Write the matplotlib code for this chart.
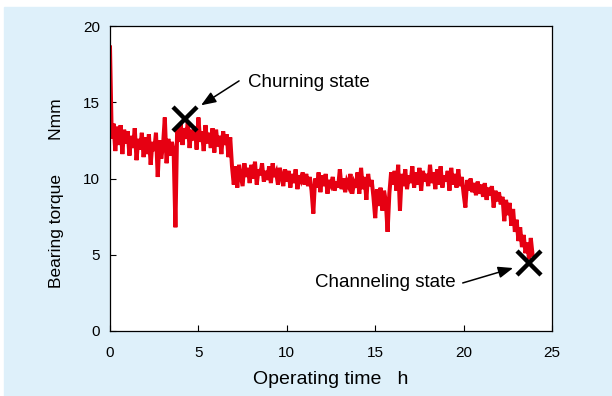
import numpy as np
import matplotlib
matplotlib.use("Agg")
import matplotlib.pyplot as plt
from matplotlib.patches import Rectangle

plt.rcParams['font.family'] = ['Liberation Sans', 'DejaVu Sans']

# bearing torque [Nmm], one reading every 0.1 h
torque_h00 = [18.6, 12.6, 13.6, 11.8, 13.4, 12.2, 13.5, 11.6, 13.2, 12.3]
torque_h01 = [13.1, 11.5, 12.8, 12.0, 13.3, 11.2, 12.6, 11.9, 13.0, 11.4]
torque_h02 = [12.7, 11.6, 12.9, 10.9, 12.4, 11.8, 13.0, 10.1, 12.5, 11.3]
torque_h03 = [12.2, 14.0, 11.0, 12.6, 11.5, 12.4, 11.8, 6.8, 13.4, 12.4]
torque_h04 = [13.6, 12.2, 13.3, 12.6, 13.7, 12.0, 13.2, 12.5, 13.4, 11.9]
torque_h05 = [14.0, 12.4, 13.1, 11.8, 13.5, 12.3, 13.0, 12.0, 13.3, 11.7]
torque_h06 = [13.2, 12.1, 12.8, 11.6, 13.1, 12.2, 12.9, 11.4, 12.7, 10.8]
torque_h07 = [9.6, 10.8, 9.4, 10.9, 10.2, 9.5, 11.0, 10.1, 10.7, 9.7]
torque_h08 = [10.9, 10.0, 11.1, 9.6, 10.6, 10.2, 11.0, 9.8, 10.5, 9.9]
torque_h09 = [10.8, 9.7, 11.0, 10.1, 10.4, 9.6, 10.7, 10.2, 9.5, 10.6]
torque_h10 = [9.8, 10.5, 9.4, 10.3, 9.7, 10.6, 9.3, 10.2, 9.9, 10.4]
torque_h11 = [9.6, 10.3, 9.5, 10.1, 9.2, 7.7, 10.0, 9.4, 10.4, 9.1]
torque_h12 = [10.2, 9.5, 10.3, 9.0, 9.9, 9.6, 10.1, 9.2, 9.8, 9.4]
torque_h13 = [10.6, 9.3, 10.0, 9.1, 9.8, 9.5, 10.3, 9.0, 9.7, 9.4]
torque_h14 = [10.4, 9.0, 10.7, 9.3, 10.1, 8.6, 10.3, 9.5, 9.9, 8.8]
torque_h15 = [7.4, 9.3, 8.2, 9.4, 7.9, 9.2, 8.5, 6.5, 9.0, 10.4]
torque_h16 = [9.6, 10.5, 9.2, 10.9, 7.9, 10.3, 9.5, 10.6, 9.3, 10.2]
torque_h17 = [9.7, 10.8, 9.4, 10.4, 9.6, 10.7, 9.2, 10.5, 9.8, 10.3]
torque_h18 = [9.5, 10.9, 9.7, 10.4, 9.3, 10.6, 9.6, 10.8, 9.4, 10.2]
torque_h19 = [9.8, 10.5, 9.2, 10.7, 9.6, 10.3, 9.4, 10.6, 9.5, 10.1]
torque_h20 = [9.0, 8.1, 9.9, 9.2, 10.0, 9.1, 9.7, 8.9, 9.8, 9.0]
torque_h21 = [9.6, 8.8, 9.7, 8.6, 9.4, 8.9, 9.5, 8.1, 9.2, 8.5]
torque_h22 = [9.1, 8.3, 8.8, 7.2, 8.6, 7.6, 8.4, 6.9, 8.0, 6.5]
torque_h23 = [7.3, 5.9, 6.8, 5.5, 6.3, 5.1, 5.8, 4.7, 6.1, 5.0]

torque = (torque_h00 + torque_h01 + torque_h02 + torque_h03 + torque_h04 +
          torque_h05 + torque_h06 + torque_h07 + torque_h08 + torque_h09 +
          torque_h10 + torque_h11 + torque_h12 + torque_h13 + torque_h14 +
          torque_h15 + torque_h16 + torque_h17 + torque_h18 + torque_h19 +
          torque_h20 + torque_h21 + torque_h22 + torque_h23)
time_h = np.arange(len(torque)) * 0.1

# marked states (time, torque)
churning = (4.25, 13.9)
channeling = (23.7, 4.45)

xticks = [0, 5, 10, 15, 20, 25]
yticks = [0, 5, 10, 15, 20]

fig = plt.figure(figsize=(6.12, 3.96), dpi=100, facecolor='white')
fig.add_artist(Rectangle((4 / 612, 0), 1, (396 - 7) / 396,
                         transform=fig.transFigure, color='#def0fa',
                         zorder=-10))
ax = fig.add_axes([110 / 612, 65 / 396, 442 / 612, 305 / 396])
ax.set_facecolor('white')

ax.plot(time_h, torque, color='#e60012', lw=2.9, solid_joinstyle='miter')

ax.plot(*churning, marker='x', color='black', ms=17, mew=3.2)
ax.plot(*channeling, marker='x', color='black', ms=17, mew=3.2)

arrow = dict(arrowstyle='-|>,head_length=0.9,head_width=0.35', color='black',
             lw=1.1, shrinkA=0, shrinkB=0)
ax.annotate('', xy=(5.15, 14.8), xytext=(7.3, 16.4), arrowprops=arrow)
ax.text(7.8, 16.3, 'Churning state', fontsize=13.5, va='center', ha='left')
ax.annotate('', xy=(22.8, 4.13), xytext=(19.95, 3.15), arrowprops=arrow)
ax.text(19.55, 3.15, 'Channeling state', fontsize=13.5, va='center',
        ha='right')

ax.set_xlim(0, 25)
ax.set_ylim(0, 20)
ax.set_xticks(xticks)
ax.set_yticks(yticks)
ax.tick_params(direction='in', length=4.5, width=0.8, labelsize=11,
               top=False, right=False)
ax.tick_params(axis='x', pad=11)
ax.tick_params(axis='y', pad=7)
for s in ax.spines.values():
    s.set_linewidth(0.9)

ax.set_xlabel('Operating time   h', fontsize=14)
ax.set_ylabel('Bearing torque       Nmm', fontsize=12.5)
ax.xaxis.set_label_coords(0.5, -0.13)
ax.yaxis.set_label_coords(-0.105, 0.451)

fig.savefig('out.png', dpi=100, facecolor=fig.get_facecolor())
